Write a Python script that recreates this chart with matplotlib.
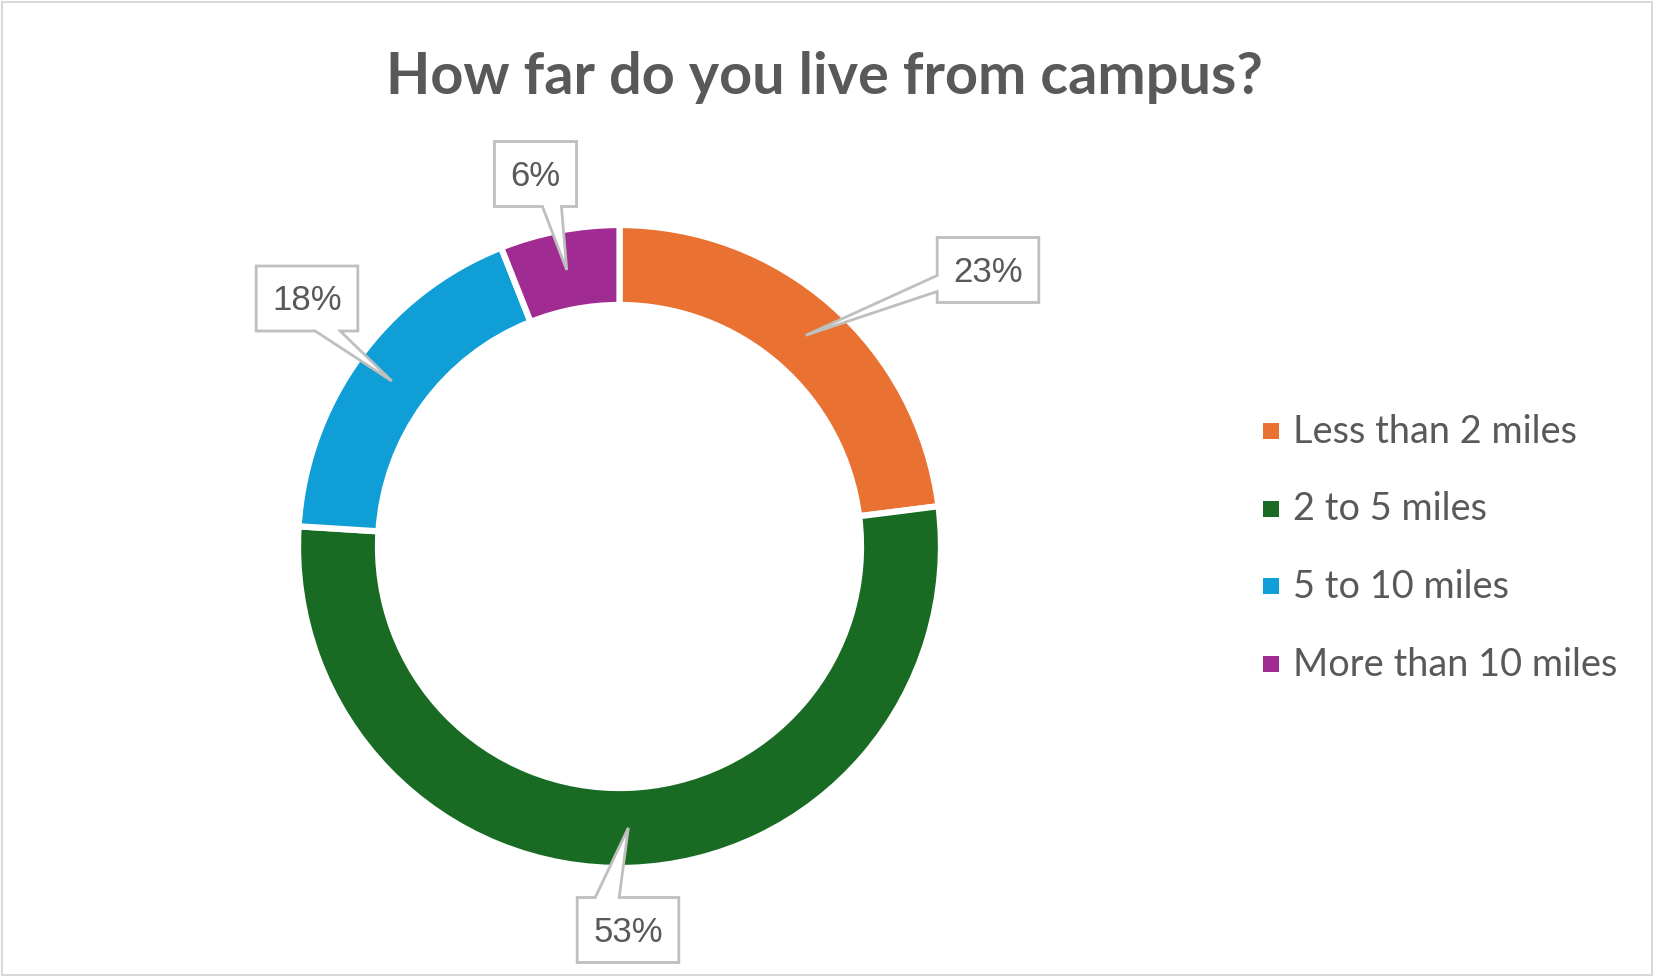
import numpy as np
import matplotlib.pyplot as plt
from matplotlib.patches import Polygon, Rectangle

categories = ['Less than 2 miles', '2 to 5 miles', '5 to 10 miles', 'More than 10 miles']
shares = [23, 53, 18, 6]
pct_labels = ['23%', '53%', '18%', '6%']
colors = ['#E97132', '#196B24', '#0F9ED5', '#A02B93']

W, H = 1653, 976
fig = plt.figure(figsize=(W / 100, H / 100), dpi=100)
ax = fig.add_axes([0, 0, 1, 1])

# donut, in pixel units (y measured from the bottom)
cx, cy = 619.5, H - 546.5
r_out, ring = 321.5, 80
wedges, _ = ax.pie(shares, colors=colors, startangle=90, counterclock=False,
                   radius=r_out, center=(cx, cy),
                   wedgeprops=dict(width=ring, edgecolor='white', linewidth=4.5))
ax.set_xlim(0, W)
ax.set_ylim(0, H)
ax.set_aspect('equal')
ax.axis('off')

# callout boxes: centre (from top), pointer side and base offsets
box_pos = [(988, 270), (628, 930), (307, 298.5), (535.5, 174)]
pointer = [('left', 11, 27), ('top', 18, 42), ('bottom', 59, 84), ('bottom', 48, 67)]
r_mid = r_out - ring / 2
renderer = fig.canvas.get_renderer()
for w, lab, (bx, by), (side, a, b) in zip(wedges, pct_labels, box_pos, pointer):
    mid = np.deg2rad((w.theta1 + w.theta2) / 2)
    tip = (cx + r_mid * np.cos(mid), cy + r_mid * np.sin(mid))
    t = ax.text(bx, H - by - 2, lab, ha='center', va='center', fontsize=25,
                family='Liberation Sans', color='#595959', zorder=4)
    tw = t.get_window_extent(renderer=renderer).width
    x0, x1 = bx - tw / 2 - 16, bx + tw / 2 + 16
    y0, y1 = H - by - 32.5, H - by + 32.5
    if side == 'bottom':
        pts = [(x0, y1), (x1, y1), (x1, y0), (x0 + b, y0), tip, (x0 + a, y0), (x0, y0)]
    elif side == 'top':
        pts = [(x0, y0), (x0, y1), (x0 + a, y1), tip, (x0 + b, y1), (x1, y1), (x1, y0)]
    else:
        pts = [(x0, y0), (x0, y0 + a), tip, (x0, y0 + b), (x0, y1), (x1, y1), (x1, y0)]
    ax.add_patch(Polygon(pts, closed=True, fc='white', ec='#BFBFBF', lw=2,
                         joinstyle='miter', zorder=3))

# legend
for i, (lab, c) in enumerate(zip(categories, colors)):
    yc = 431 + 77.5 * i
    ax.add_patch(Rectangle((1263, H - yc - 8), 16, 16, color=c, lw=0))
    ax.text(1293, H - yc - 12, lab, ha='left', va='baseline', fontsize=27.3,
            family='Lato', color='#595959')

fig.text(824.5 / W, 1 - 94 / H, 'How far do you live from campus?', ha='center',
         va='baseline', fontsize=41.5, fontweight='bold', family='Lato',
         color='#595959')

ax.add_patch(Rectangle((1.5, 1.5), W - 3, H - 3, fill=False, ec='#D9D9D9', lw=1.5))

fig.savefig('out.png', dpi=100, facecolor='white')
